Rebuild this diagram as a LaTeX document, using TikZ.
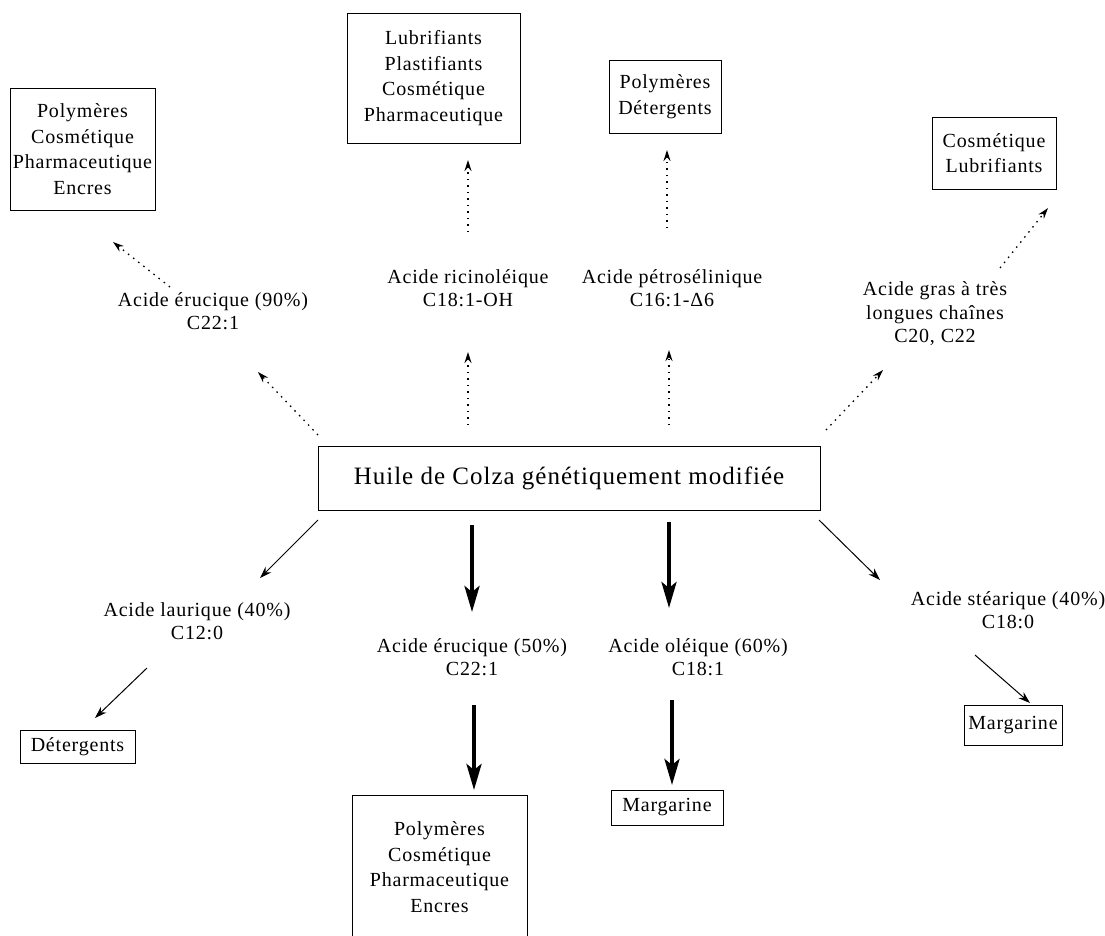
\documentclass[tikz,border=0pt]{standalone}
\usepackage{fontspec}
\setmainfont{Liberation Serif}[LetterSpace=4]
\usetikzlibrary{arrows.meta}
\begin{document}
\begin{tikzpicture}[x=1pt,y=-1pt,
 box/.style={draw,line width=1pt,align=center,inner sep=0pt,font=\fontsize{20}{25.5}\selectfont},
 lab/.style={align=center,inner sep=0pt,font=\fontsize{20}{23.5}\selectfont},
 dotarrow/.style={line width=1.3pt,dash pattern=on 1.5pt off 5pt,-{Stealth[length=11pt,width=7pt]}},
 thinarrow/.style={line width=1pt,-{Stealth[length=12pt,width=8pt]}},
 bigarrow/.style={line width=4pt,-{Stealth[length=26pt,width=15pt,inset=6pt]}}]
\useasboundingbox (0,0) rectangle (1105,935);
\clip (0,0) rectangle (1105,935);
\fill[white] (0,0) rectangle (1105,935);
% boxes
\node[box,minimum width=145pt,minimum height=122pt] (tl) at (82.5,149) {Polymères\\Cosmétique\\Pharmaceutique\\Encres};
\node[box,minimum width=173pt,minimum height=130pt] (lub) at (433.5,78) {Lubrifiants\\Plastifiants\\Cosmétique\\Pharmaceutique};
\node[box,minimum width=112pt,minimum height=73pt] (pd) at (665,96.5) {Polymères\\Détergents};
\node[box,minimum width=124pt,minimum height=72pt] (cl) at (994,153) {Cosmétique\\Lubrifiants};
\node[box,minimum width=502pt,minimum height=64pt,font=\fontsize{25}{30}\selectfont] (main) at (569,478) {Huile de Colza génétiquement modifiée};
\node[box,minimum width=115pt,minimum height=33pt] (det) at (77.5,746.5) {Détergents};
\node[box,minimum width=175pt,minimum height=144pt] (bot) at (439.5,867) {Polymères\\Cosmétique\\Pharmaceutique\\Encres};
\node[box,minimum width=112pt,minimum height=35pt] (mc) at (667,807.5) {Margarine};
\node[box,minimum width=98pt,minimum height=40pt] (mr) at (1013,725) {Margarine};
% labels
\node[lab] (erA) at (213,311) {Acide érucique (90\%)\\C22:1};
\node[lab] (ric) at (468,288) {Acide ricinoléique\\C18:1-OH};
\node[lab] (pet) at (672,288) {Acide pétrosélinique\\C16:1-Δ6};
\node[lab] (gras) at (935,314) {Acide gras à très\\longues chaînes\\C20, C22};
\node[lab] (lau) at (197,621) {Acide laurique (40\%)\\C12:0};
\node[lab] (erB) at (472,657) {Acide érucique (50\%)\\C22:1};
\node[lab] (ole) at (698,657) {Acide oléique (60\%)\\C18:1};
\node[lab] (ste) at (1008,610) {Acide stéarique (40\%)\\C18:0};
% arrow end points
\coordinate (d1s) at (318,435); \coordinate (d1e) at (258,372);
\coordinate (d2s) at (170,287); \coordinate (d2e) at (113,242);
\coordinate (d3s) at (468,425); \coordinate (d3e) at (468,352);
\coordinate (d4s) at (468,232); \coordinate (d4e) at (468,160);
\coordinate (d5s) at (669,425); \coordinate (d5e) at (669,350);
\coordinate (d6s) at (667,228); \coordinate (d6e) at (667,150);
\coordinate (d7s) at (826,430); \coordinate (d7e) at (883,370);
\coordinate (d8s) at (1000,268); \coordinate (d8e) at (1048,208);
\coordinate (t1s) at (318,520); \coordinate (t1e) at (260,578);
\coordinate (t2s) at (147,668); \coordinate (t2e) at (95,718);
\coordinate (t3s) at (819,520); \coordinate (t3e) at (880,580);
\coordinate (t4s) at (975,655); \coordinate (t4e) at (1030,703);
\coordinate (b1s) at (472,525); \coordinate (b1e) at (472,612);
\coordinate (b2s) at (474,705); \coordinate (b2e) at (474,790);
\coordinate (b3s) at (669,522); \coordinate (b3e) at (669,608);
\coordinate (b4s) at (672,700); \coordinate (b4e) at (672,785);
% dotted arrows
\draw[dotarrow] (d1s) -- (d1e);
\draw[dotarrow] (d2s) -- (d2e);
\draw[dotarrow] (d3s) -- (d3e);
\draw[dotarrow] (d4s) -- (d4e);
\draw[dotarrow] (d5s) -- (d5e);
\draw[dotarrow] (d6s) -- (d6e);
\draw[dotarrow] (d7s) -- (d7e);
\draw[dotarrow] (d8s) -- (d8e);
% thin arrows
\draw[thinarrow] (t1s) -- (t1e);
\draw[thinarrow] (t2s) -- (t2e);
\draw[thinarrow] (t3s) -- (t3e);
\draw[thinarrow] (t4s) -- (t4e);
% thick arrows
\draw[bigarrow] (b1s) -- (b1e);
\draw[bigarrow] (b2s) -- (b2e);
\draw[bigarrow] (b3s) -- (b3e);
\draw[bigarrow] (b4s) -- (b4e);
\end{tikzpicture}
\end{document}
